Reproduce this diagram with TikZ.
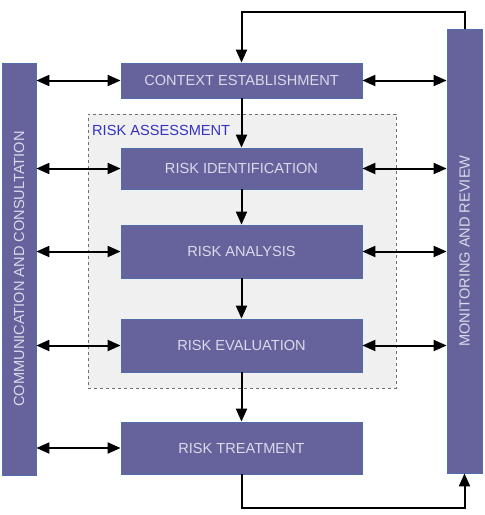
\documentclass[tikz,border=0pt]{standalone}
\usepackage{fontspec}
\setmainfont{Liberation Sans}
\usetikzlibrary{arrows.meta}
\definecolor{boxfill}{RGB}{102,98,156}
\definecolor{boxborder}{RGB}{80,110,170}
\definecolor{boxtext}{RGB}{218,218,234}
\definecolor{assessfill}{RGB}{240,240,240}
\definecolor{assessline}{RGB}{110,110,110}
\definecolor{labelblue}{RGB}{50,50,190}
\begin{document}
\begin{tikzpicture}[x=1pt,y=-1pt,
  stepbox/.style={rectangle,fill=boxfill,draw=boxborder,line width=0.8pt,text=boxtext,
    font=\fontsize{14.6}{17}\selectfont,inner sep=0pt,minimum width=241pt},
  barbox/.style={stepbox,minimum width=34pt},
  tip/.tip={Triangle[length=13pt,width=11pt]},
  arr/.style={line width=2pt,-tip},
  dbl/.style={line width=2pt,tip-tip},
  assessbox/.style={rectangle,fill=assessfill,draw=assessline,dashed,line width=0.8pt,
    minimum width=308pt,minimum height=274pt,inner sep=0pt}]
\useasboundingbox (0,0) rectangle (485,515);
\node[assessbox] (assess) at (242,251) {};
\node[anchor=west,text=labelblue,font=\fontsize{14.6}{17}\selectfont,inner sep=0pt] (assesslbl) at (92,130) {RISK ASSESSMENT};
\node[stepbox,minimum height=35pt] (ctx) at (241.5,80.5) {CONTEXT ESTABLISHMENT};
\node[stepbox,minimum height=41pt] (ident) at (241.5,168.5) {RISK IDENTIFICATION};
\node[stepbox,minimum height=53pt] (anal) at (241.5,251.5) {RISK ANALYSIS};
\node[stepbox,minimum height=53pt] (eval) at (241.5,345.5) {RISK EVALUATION};
\node[stepbox,minimum height=52pt] (treat) at (241.5,448) {RISK TREATMENT};
\node[barbox,minimum height=412pt] (lbar) at (19,269) {};
\node[rotate=90,text=boxtext,font=\fontsize{14.6}{17}\selectfont,inner sep=0pt] (lbartxt) at (lbar.center) {COMMUNICATION AND CONSULTATION};
\node[barbox,minimum width=35pt,minimum height=444pt] (rbar) at (464.5,251) {};
\node[rotate=90,text=boxtext,font=\fontsize{14.6}{17}\selectfont,inner sep=0pt] (rbartxt) at (rbar.center) {MONITORING AND REVIEW};
\coordinate (topy) at (0,12);
\coordinate (boty) at (0,508);
% vertical flow
\draw[arr] (ctx.south) -- (ident.north);
\draw[arr] (ident.south) -- (anal.north);
\draw[arr] (anal.south) -- (eval.north);
\draw[arr] (eval.south) -- (treat.north);
% feedback loop
\draw[arr] (rbar.north) -- (rbar.north |- topy) -| (ctx.north);
\draw[arr] (treat.south) -- (treat.south |- boty) -| (rbar.south);
% left links
\draw[dbl] (lbar.east |- ctx.west) -- (ctx.west);
\draw[dbl] (lbar.east |- ident.west) -- (ident.west);
\draw[dbl] (lbar.east |- anal.west) -- (anal.west);
\draw[dbl] (lbar.east |- eval.west) -- (eval.west);
\draw[dbl] (lbar.east |- treat.west) -- (treat.west);
% right links
\draw[dbl] (ctx.east) -- (rbar.west |- ctx.east);
\draw[dbl] (ident.east) -- (rbar.west |- ident.east);
\draw[dbl] (anal.east) -- (rbar.west |- anal.east);
\draw[dbl] (eval.east) -- (rbar.west |- eval.east);
\end{tikzpicture}
\end{document}
